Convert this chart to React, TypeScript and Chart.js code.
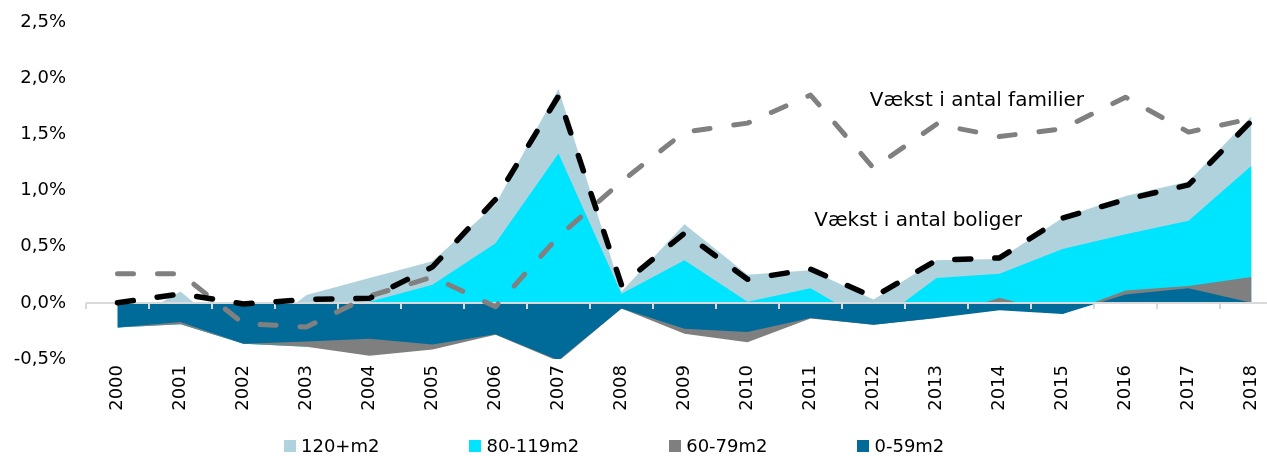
import React, { useEffect, useRef } from 'react';
import { Chart, registerables } from 'chart.js';

Chart.register(...registerables);

// ---------- data ----------
const years = ['2000', '2001', '2002', '2003', '2004', '2005', '2006', '2007', '2008', '2009',
  '2010', '2011', '2012', '2013', '2014', '2015', '2016', '2017', '2018'];

const size0to59 = [-0.22, -0.17, -0.365, -0.345, -0.32, -0.37, -0.28, -0.51, -0.05, -0.23,
  -0.26, -0.135, -0.195, -0.135, -0.065, -0.10, 0.075, 0.13, 0.0];
const size60to79 = [0, -0.02, 0, -0.045, -0.15, -0.045, -0.005, -0.01, 0, -0.045,
  -0.09, -0.005, 0, 0, 0.045, 0, 0.035, 0.02, 0.23];
const size80to119 = [0, 0, 0, 0, 0.01, 0.16, 0.53, 1.33, 0.08, 0.38,
  0.01, 0.13, 0, 0.22, 0.215, 0.48, 0.50, 0.58, 0.99];
const size120plus = [0, 0.10, 0, 0.07, 0.21, 0.21, 0.345, 0.575, 0.02, 0.32,
  0.24, 0.16, 0.03, 0.16, 0.13, 0.275, 0.34, 0.35, 0.44];

const vaekstBoliger = [0.0, 0.08, -0.01, 0.03, 0.04, 0.32, 0.92, 1.84, 0.16, 0.62,
  0.21, 0.30, 0.05, 0.38, 0.40, 0.755, 0.92, 1.05, 1.62];
const vaekstFamilier = [0.26, 0.26, -0.185, -0.215, 0.06, 0.23, -0.035, 0.59, 1.08, 1.52,
  1.60, 1.85, 1.20, 1.59, 1.48, 1.55, 1.83, 1.52, 1.64];

const yMin = -0.5;
const yMax = 2.5;
const yStep = 0.5;

const areaLabels = ['0-59m2', '60-79m2', '80-119m2', '120+m2'];
const lineLabels = ['Vækst i antal boliger', 'Vækst i antal familier'];

// ---------- styles ----------
const FONT = "'DejaVu Sans', sans-serif";
const COLORS = {
  s0to59: '#006b99',
  s60to79: '#7f7f7f',
  s80to119: '#00e5ff',
  s120plus: '#b0d2dd',
  boliger: '#000000',
  familier: '#808080',
  axis: '#d9d9d9',
};

// annotation anchor (category index, value)
const annotations = [
  { text: lineLabels[1], at: 11.94, value: 1.795 },
  { text: lineLabels[0], at: 11.06, value: 0.726 },
];

function drawZeroAxis(chart: any) {
  const { ctx, chartArea, scales } = chart;
  const xs = scales.x;
  const ys = scales.y;
  const y0 = Math.round(ys.getPixelForValue(0));
  ctx.save();
  ctx.strokeStyle = COLORS.axis;
  ctx.lineWidth = 2;
  ctx.setLineDash([]);
  ctx.beginPath();
  ctx.moveTo(chartArea.left, y0);
  ctx.lineTo(chartArea.right, y0);
  ctx.stroke();
  for (let i = 0; i <= years.length; i++) {
    const px = Math.round(xs.getPixelForValue(i - 0.5));
    ctx.beginPath();
    ctx.moveTo(px, y0);
    ctx.lineTo(px, y0 + 6);
    ctx.stroke();
  }
  ctx.restore();
}

const zeroAxisPlugin = {
  id: 'zeroAxis',
  beforeDatasetsDraw(chart: any) {
    chart.$zeroAxisDone = false;
  },
  beforeDatasetDraw(chart: any, args: any) {
    if (chart.$zeroAxisDone) return;
    const ds = chart.data.datasets[args.index];
    if (ds && ds.fill === false) {
      drawZeroAxis(chart);
      chart.$zeroAxisDone = true;
    }
  },
  afterDatasetsDraw(chart: any) {
    if (!chart.$zeroAxisDone) {
      drawZeroAxis(chart);
      chart.$zeroAxisDone = true;
    }
  },
};

const annotationPlugin = {
  id: 'lineNotes',
  afterDatasetsDraw(chart: any) {
    const { ctx, scales } = chart;
    ctx.save();
    ctx.fillStyle = '#000';
    ctx.font = `20px ${FONT}`;
    ctx.textAlign = 'left';
    ctx.textBaseline = 'middle';
    for (const a of annotations) {
      ctx.fillText(a.text, scales.x.getPixelForValue(a.at), scales.y.getPixelForValue(a.value));
    }
    ctx.restore();
  },
};

const legendItems = [
  { label: areaLabels[3], color: COLORS.s120plus },
  { label: areaLabels[2], color: COLORS.s80to119 },
  { label: areaLabels[1], color: COLORS.s60to79 },
  { label: areaLabels[0], color: COLORS.s0to59 },
];

export default function App() {
  const canvasRef = useRef<HTMLCanvasElement>(null);

  useEffect(() => {
    const area = (label: string, data: number[], color: string) => ({
      type: 'line' as const,
      label,
      data,
      order: 1,
      stack: 'sizes',
      fill: 'origin',
      backgroundColor: color,
      borderColor: color,
      borderWidth: 0,
      pointRadius: 0,
      pointHoverRadius: 0,
      tension: 0,
      clip: false as any,
    });
    const dashed = (label: string, data: number[], color: string, stack: string, width: number) => ({
      type: 'line' as const,
      label,
      data,
      order: 0,
      stack,
      fill: false,
      borderColor: color,
      backgroundColor: color,
      borderWidth: width,
      borderDash: [16, 24],
      borderCapStyle: 'round' as const,
      borderJoinStyle: 'round' as const,
      pointRadius: 0,
      pointHoverRadius: 0,
      tension: 0,
      clip: false as any,
    });

    const chart = new Chart(canvasRef.current!, {
      type: 'line',
      data: {
        labels: years,
        datasets: [
          area(areaLabels[0], size0to59, COLORS.s0to59),
          area(areaLabels[1], size60to79, COLORS.s60to79),
          area(areaLabels[2], size80to119, COLORS.s80to119),
          area(areaLabels[3], size120plus, COLORS.s120plus),
          dashed(lineLabels[0], vaekstBoliger, COLORS.boliger, 'boliger', 5.5),
          dashed(lineLabels[1], vaekstFamilier, COLORS.familier, 'familier', 5),
        ] as any,
      },
      options: {
        animation: false,
        responsive: true,
        maintainAspectRatio: false,
        layout: { padding: { top: 22, bottom: 37, left: 0, right: 0 } },
        plugins: {
          legend: { display: false },
          tooltip: { enabled: false },
        },
        scales: {
          x: {
            offset: true,
            grid: { display: false, drawTicks: false },
            border: { display: false },
            ticks: {
              autoSkip: false,
              minRotation: 90,
              maxRotation: 90,
              padding: 6,
              color: '#000',
              font: { family: FONT, size: 18 },
            },
            afterFit: (s: any) => { s.height = 60; },
          },
          y: {
            stacked: true,
            min: yMin,
            max: yMax,
            grid: { display: false, drawTicks: false },
            border: { display: false },
            ticks: {
              stepSize: yStep,
              padding: 20,
              color: '#000',
              font: { family: FONT, size: 18 },
              callback: (v: any) => Number(v).toFixed(1).replace('.', ',') + '%',
            },
            afterFit: (s: any) => {
              s.width = 86;
              s.paddingTop = 0;
              s.paddingBottom = 0;
            },
          },
        },
      },
      plugins: [zeroAxisPlugin, annotationPlugin],
    });
    return () => chart.destroy();
  }, []);

  return (
    <div style={{ position: 'fixed', left: 0, top: 0, width: '100vw', height: '100vh', overflow: 'hidden', background: '#fff' }}>
      <div style={{ position: 'absolute', left: 0, top: 0, width: 1283, height: 456 }}>
        <canvas ref={canvasRef} />
      </div>
      <div style={{
        position: 'absolute', left: 284, top: 436, display: 'flex', alignItems: 'center', gap: 90,
        fontFamily: FONT, fontSize: 18, lineHeight: '20px', color: '#000', whiteSpace: 'nowrap',
      }}>
        {legendItems.map((it) => (
          <div key={it.label} style={{ display: 'flex', alignItems: 'center' }}>
            <span style={{ display: 'inline-block', width: 12, height: 12, background: it.color, marginRight: 5 }} />
            <span>{it.label}</span>
          </div>
        ))}
      </div>
    </div>
  );
}
